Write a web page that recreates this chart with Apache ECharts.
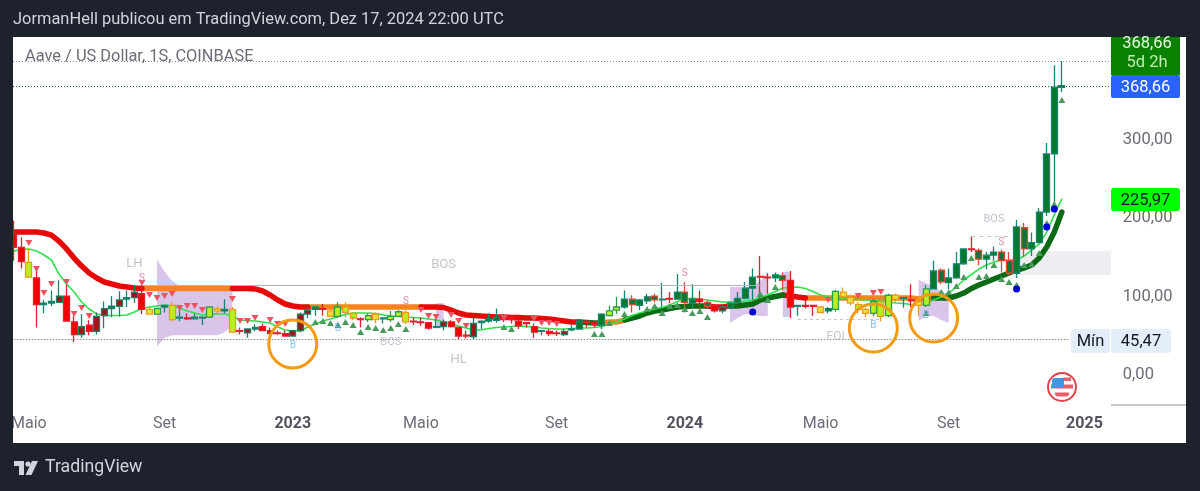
<!DOCTYPE html>
<html><head><meta charset="utf-8">
<style>html,body{margin:0;padding:0;background:#1e222d}#c{width:1200px;height:491px}</style>
<script src="https://cdn.jsdelivr.net/npm/echarts@6/dist/echarts.min.js"></script>
</head><body><div id="c"></div>
<script>
const tickDates=['2022-05-02','2022-09-05','2023-01-02','2023-05-01','2023-09-04','2024-01-01','2024-05-06','2024-09-02','2025-01-06'];
const tickLabels=['Maio','Set','2023','Maio','Set','2024','Maio','Set','2025'];
const priceTicks=[0,100,200,300];
const opens=[180,163,144,124,90,92,93,101,68,52,64,56,76,85,88,97,99,104,84,78,87,89,73,73,72,73,74,82,82,84,57,54,59,62,57,54,53,50,57,78,84,85,82,75,87,79,72,71,78,72,71,75,80,69,68,67,61,62,68,61,51,49,67,69,70,75,74,69,67,62,56,56,54,52,58,59,69,68,64,76,83,87,97,89,95,101,96,98,97,106,92,97,93,89,82,86,93,98,111,126,125,124,127,121,88,89,89,87,82,84,106,99,90,84,79,94,76,102,98,96,94,89,110,134,118,124,142,161,159,148,153,157,146,130,188,161,169,208,282,367];
const closes=[163,145,125,90,92,94,101,69,52,62,56,75,85,88,96,99,106,84,78,85,89,71,74,72,74,74,87,85,84,55,56,59,61,57,53,53,50,57,78,83,87,84,75,87,80,73,71,76,71,73,75,81,68,68,67,60,62,68,62,50,50,66,69,72,74,71,71,63,66,55,57,53,53,56,59,69,67,65,78,82,87,97,90,96,100,96,97,97,106,93,97,94,88,82,87,92,98,111,125,125,124,128,121,87,89,88,88,80,85,107,100,92,84,79,94,75,102,97,99,95,89,110,133,119,124,142,161,160,148,153,157,146,130,189,161,169,208,282,367,369];
const lows=[146,136,125,61,79,88,93,69,42,48,51,52,60,74,75,87,92,78,78,78,80,69,69,70,71,64,73,79,79,55,52,48,56,57,52,52,50,50,55,73,76,76,75,73,74,70,61,68,66,66,68,75,65,64,63,58,60,57,61,46,47,46,59,67,67,68,66,59,61,48,51,50,50,50,56,58,61,61,59,75,78,85,80,83,91,93,87,92,97,80,85,83,85,80,79,85,91,97,96,98,104,119,108,73,76,85,76,80,79,81,99,89,79,74,75,69,74,93,86,87,76,87,110,116,110,123,141,157,140,135,146,131,127,124,151,152,169,203,220,361];
const highs=[197,176,161,134,96,108,121,115,76,78,70,80,94,101,107,108,115,115,88,85,90,93,87,79,79,74,88,88,97,87,61,60,65,66,61,57,57,58,80,88,88,91,84,93,93,80,74,79,80,73,82,83,83,74,74,68,72,71,70,62,57,73,70,79,85,77,75,73,68,66,57,59,57,59,64,70,70,69,79,89,100,108,102,97,104,104,118,106,129,119,116,108,96,91,89,94,106,119,136,152,130,131,131,133,90,96,90,88,87,109,112,103,93,86,97,96,104,104,100,116,99,115,146,136,136,157,162,177,162,157,164,160,157,198,194,182,213,296,395,400];
const candleKinds='rrlrggdrrdrddgdgdryk'+'glgrggkyglrdgrrrrddd'+'grykllrkygkklrrrgdrr'+'rdgggrrrrrgrrdggrrgk'+'kgbggbgrgbgrbrdggggr'+'rgbrgrrygkyylyklkygr'+'ykgbgggrbggbbgbggggg';
const thickLine=[182.5,182.5,182.5,182.5,181.3,178.7,171,161,149.4,139.2,130.3,124,118.9,116.3,113.8,112.5,111.2,110.6,110.6,110.6,110.6,110.6,110.6,110.6,110.6,110.6,110.6,110.6,110.6,110.6,110.6,110.6,110,107.4,102.3,95.9,90.8,88.3,87,87,87,87,87,87,87,87,87,87,87,87,87,87,87,87,87,87,87,86.4,83.2,79.4,76.8,76.2,75.5,74.9,74.3,74.3,73.6,73.6,73,73,72.4,71.7,70.4,69.2,67.9,67.9,67.3,66.6,66.6,67.9,67.9,70.4,73,75.5,79.4,81.9,83.2,85.1,87,87.6,88.3,88.3,88.3,87,87,88.3,88.3,89.6,90.8,95.9,98.5,100.4,102.3,101,99.7,98.5,98.5,98.5,98.5,98.5,98.5,98.5,98.5,98.5,98.5,98.5,98.5,98.5,98.5,98.5,97.2,97.8,98.5,98.5,98.5,101,104.8,110.6,115,118.9,122.7,126.5,130.3,134.1,136.7,140.5,149.4,163.4,182.5,208];
const thickRed=[[0,17],[29,39],[54,75],[92,95],[102,105]];
const thickOrange=[[17,29],[39,54],[78,81],[105,122]];
const thickGreen=[[75,78],[81,92],[95,102],[122,139]];
const thinLine=[158.3,160.3,160.9,158.3,153.3,146.9,129,116.3,106.1,93.4,84.5,78.1,76.2,76.2,76.2,76.8,80.6,85.1,87,88.3,89.6,88.3,85.7,81.9,79.4,76.8,78.1,78.1,78.1,75.5,70.4,69.8,69.2,67.9,66.6,61.5,57.7,56.4,56.4,61.5,65.4,69.2,71.7,74.9,77.5,79.4,79.4,79.4,78.7,76.8,75.5,74.9,74.3,73.6,73,71.7,70.4,67.9,65.4,62.8,60.3,58.4,57.7,59.6,60.9,61.5,62.2,62.8,62.2,61.5,60.3,59.6,59,59,59.6,60.3,60.3,60.9,62.2,64.7,67.9,71.7,76.2,79.4,81.9,84.5,86.4,89.6,94,96.6,98.5,97.2,95.9,94.7,93.4,93.4,93.4,94.7,95.9,99.1,102.3,106.8,111.2,111.8,112.5,110.6,106.8,102.3,99.7,97.8,97.2,97.2,96.6,95.9,95.9,95.3,93.4,92.1,91.5,90.2,89.6,92.1,95.9,99.7,104.8,112.5,121.4,128.4,135.4,140.5,144.3,146.9,146.9,146.9,151.9,159.6,167.3,182.5,204.3,224.7];
const downIdx=[2,3,4,5,7,8,9,10,17,18,19,20,21,22,23,24,25,29,30,31,32,34,35,36,54,55,56,58,59,60,65,69,70,71,72,108,112,114,115];
const downVal=[168.5,135.4,104.8,116.3,118.9,78.1,85.7,75.5,117.6,102.3,98.5,101,103.6,85.7,88.3,88.3,83.2,97.2,69.2,69.2,73,70.4,65.4,65.4,83.2,75.5,74.3,76.8,69.2,62.8,73,71.7,66.6,66.6,65.4,96,101,104.8,106.1];
const upIdx=[40,41,42,43,44,45,46,47,48,49,50,51,52,65,66,77,78,79,81,84,85,86,87,88,89,90,91,92,99,100,101,121,123,124,125,126,127,128,129,130,131,132,133,134,135,136,137,138,139];
const upVal=[67.9,69.2,66.6,64.1,67.9,64.1,55.2,61.5,60.3,57.7,60.3,65.4,59,61.5,59,52.6,52.6,66.6,78.1,84.5,88.3,79.4,88.3,89.6,84.5,79.4,81.9,74.3,103.6,95.9,112.5,79.4,106.1,106.1,113.8,125.2,149.4,125.2,126.5,140.5,122.7,118.9,115,140.5,141.8,155.8,194.1,218.3,350.7];
const dotIdx=[98,133,137,138];
const dotVal=[80.7,110,189,212];
const zone1Idx=[19,20,21,22,23,24,25,26,27,28,29];
const zone1Hi=[148,132,120,114,111,111,111,111,111,111,111];
const zone1Lo=[37,47.5,51,51,51,51,51,51,51,55,64];
const zone2Idx=[56,57];const zone2Hi=[92,92];const zone2Lo=[60,60];
const zone3Idx=[95,96,97,98,99,100];
const zone3Hi=[112.5,112.5,112.5,112.5,120,131.6];
const zone3Lo=[66.6,73,78,76.8,75.5,75.5];
const zone4Idx=[102,103];const zone4Hi=[131.6,131.6];const zone4Lo=[74.3,74.3];
const zone5Idx=[120,121,122,123,124];
const zone5Hi=[121.4,117.6,112.5,107.4,102.3];
const zone5Lo=[69.2,75.5,75.5,70.4,66.6];
const supportBox=[133,145,158.4,127.8];
const circleIdx=[37,114,122];
const circleVal=[40,60.3,73];
const noteIdx=[16,57,59,50,109,130,17,52,89,131,37,43,114,121];
const noteVal=[141.8,140.5,19.5,42.4,48.8,199,122.7,93.4,130,169.8,38.6,60,64,76.8];
const noteText=['LH','BOS','HL','BOS','FOI','BOS','S','S','S','S','B','B','B','B'];
const noteSize=[13,13,13,11,12,11,10,10,10,10,10,10,10,10];
const lastPrice=368.66, highPrice=400.4, minPrice=45.47, bosLevel=114.1, dash1=71.7, dash2=177.4;

const catCount=146;
const categories=Array.from({length:catCount},(_,i)=>new Date(Date.UTC(2022,3,18+7*i)).toISOString().slice(0,10));
const C={r:['#f60000','#e0202e'],d:['#a01518','#1f8068'],b:['#14733c','#dc4a30'],g:['#08792a','#168570'],
         l:['#b6f020','#ea9a1e'],k:['#b6f020','#2c9a55'],y:['#e6e23c','#ee9a1e']};
const candleData=opens.map((o,i)=>{const c=C[candleKinds[i]];return{value:[o,closes[i],lows[i],highs[i]],
  itemStyle:{color:c[0],color0:c[0],borderColor:c[1],borderColor0:c[1],borderWidth:1.3}}});
const maskBy=r=>thickLine.map((v,i)=>r.some(s=>i>=s[0]&&i<=s[1])?v:null);
const thick=(r,col,z)=>({type:'line',data:maskBy(r),showSymbol:false,symbol:'none',connectNulls:false,z:z,silent:true,
  lineStyle:{color:col,width:5.5,cap:'round'}});
const zone=(x,hi,lo)=>{
  const pts=x.map((v,i)=>[v,hi[i],lo[i]]);
  return{type:'custom',z:1,silent:true,coordinateSystem:'cartesian2d',data:[0],encode:{x:0,y:0},clip:true,
    renderItem:(p,api)=>{const up=pts.map(d=>api.coord([d[0],d[1]]));const dn=pts.map(d=>api.coord([d[0],d[2]])).reverse();
      return{type:'polygon',shape:{points:up.concat(dn)},style:{fill:'#d9c5ea'}}}}};
const symbolScatter=(xs,ys,extra)=>Object.assign({type:'scatter',silent:true,data:xs.map((x,i)=>[x,ys[i]])},extra);
const noteColor=t=>t==='S'?'#d9709a':t==='B'?'#64b5f6':'#b2b5be';
const F='Roboto';
const badge=(x,y,w,h,fill,txt,col,r)=>[
  {type:'rect',shape:{x:x,y:y,width:w,height:h,r:r||0},style:{fill:fill}},
  {type:'text',x:x+w/2,y:y+h/2+1,style:{text:txt,fill:col,font:'16.5px '+F,align:'center',verticalAlign:'middle'}}];
const frontElements=[
  {type:'rect',shape:{x:0,y:37,width:13,height:406},style:{fill:'#1e222d'}},
  {type:'text',x:13,y:20,style:{text:'JormanHell publicou em TradingView.com, Dez 17, 2024 22:00 UTC',fill:'#d1d4dc',font:'16.45px '+F,verticalAlign:'middle'}},
  {type:'text',x:25,y:57,style:{text:'Aave / US Dollar, 1S, COINBASE',fill:'#6a6d78',font:'16.4px '+F,verticalAlign:'middle'}},
  {type:'rect',shape:{x:1111,y:37,width:69,height:38},style:{fill:'#0a8001'}},
  {type:'text',x:1147,y:44,style:{text:'368,66',fill:'#e8fbe0',font:'16.5px '+F,align:'center',verticalAlign:'middle'}},
  {type:'text',x:1147,y:63,style:{text:'5d 2h',fill:'#bdf0b0',font:'16.5px '+F,align:'center',verticalAlign:'middle'}},
  ...badge(1111,75,69,23,'#2962ff','368,66','#ffffff',2),
  ...badge(1111,188,69,23,'#00ff00','225,97','#131722',3),
  ...badge(1071,329,39,24,'#e3eefa','Mín','#131722',3),
  ...badge(1111,329,60,24,'#e3eefa','45,47','#131722',3),
  {type:'circle',shape:{cx:1062,cy:387,r:14},style:{fill:'#fff',stroke:'#e0434b',lineWidth:2}},
  {type:'rect',shape:{x:1063,y:377.5,width:8,height:3.5},style:{fill:'#e8606a'}},
  {type:'rect',shape:{x:1051,y:384.5,width:22,height:4},style:{fill:'#e8606a'}},
  {type:'rect',shape:{x:1055,y:392.5,width:14,height:4,r:[0,0,3,3]},style:{fill:'#e8606a'}},
  {type:'rect',shape:{x:1052,y:378,width:12,height:10,r:[3,0,0,0]},style:{fill:'#3f97dd'}},
  {type:'polygon',shape:{points:[[14,461],[24,461],[24,475],[19,475],[19,466],[14,466]]},style:{fill:'#d1d4dc'}},
  {type:'circle',shape:{cx:28,cy:464,r:2.6},style:{fill:'#d1d4dc'}},
  {type:'polygon',shape:{points:[[32,461],[38,461],[31.5,475],[25.5,475]]},style:{fill:'#d1d4dc'}},
  {type:'text',x:45,y:468,style:{text:'TradingView',fill:'#d1d4dc',font:'17.7px '+F,verticalAlign:'middle'}}
].map(e=>Object.assign({z:100},e));

const option={
  animation:false,backgroundColor:'#1e222d',
  grid:{left:10,top:37,width:1100.84,height:368,containLabel:false,show:false},
  xAxis:{type:'category',data:categories,boundaryGap:true,axisLine:{show:false},axisTick:{show:false},splitLine:{show:false},
    axisLabel:{interval:(i,v)=>tickDates.includes(v),margin:11,hideOverlap:false,
      formatter:v=>{const l=tickLabels[tickDates.indexOf(v)];return /^\d+$/.test(l)?'{y|'+l+'}':'{m|'+l+'}'},
      rich:{m:{fontFamily:F,fontSize:16,color:'#6a6d78'},y:{fontFamily:F,fontSize:16,fontWeight:'bold',color:'#50535e'}}}},
  yAxis:{type:'value',position:'right',min:-37.83,max:431,axisLine:{show:false},axisTick:{show:false},splitLine:{show:false},
    axisLabel:{customValues:priceTicks,margin:12,padding:[3,0,0,0],fontFamily:F,fontSize:16.5,color:'#6a6d78',
      formatter:v=>v.toFixed(2).replace('.',',')}},
  graphic:{z:0,elements:[
      {type:'rect',shape:{x:13,y:37,width:1173,height:406},style:{fill:'#ffffff'}},
      {type:'line',shape:{x1:1111,y1:405,x2:1186,y2:405},style:{stroke:'#8f929b',lineWidth:1}},
      ...frontElements]},
  series:[
    {type:'custom',z:1,silent:true,coordinateSystem:'cartesian2d',data:[0],encode:{x:0,y:0},
      renderItem:(p,api)=>{const a=api.coord([supportBox[0],supportBox[2]]),b=api.coord([supportBox[1],supportBox[3]]);
        return{type:'rect',shape:{x:a[0],y:a[1],width:b[0]-a[0]+api.size([1,0])[0]/2,height:b[1]-a[1]},style:{fill:'#eeeef2'}}}},
    zone(zone1Idx,zone1Hi,zone1Lo),zone(zone2Idx,zone2Hi,zone2Lo),zone(zone3Idx,zone3Hi,zone3Lo),zone(zone4Idx,zone4Hi,zone4Lo),zone(zone5Idx,zone5Hi,zone5Lo),
    thick(thickOrange,'#f7841e',2),thick(thickRed,'#e80808',2),thick(thickGreen,'#0a6b14',2),
    {type:'line',data:thinLine,symbol:'none',z:3,silent:true,lineStyle:{color:'#2fe04a',width:1.6},
      markLine:{silent:true,symbol:'none',animation:false,label:{show:false},data:[
        {yAxis:highPrice,lineStyle:{color:'#8a8d96',type:[1,2],width:1}},
        {yAxis:lastPrice,lineStyle:{color:'#1f6b3a',type:[1,2],width:1}},
        [{coord:[0,minPrice],lineStyle:{color:'#8a8d96',type:[1.5,1.5],width:1}},{coord:[140,minPrice]}],
        [{coord:[17,bosLevel],lineStyle:{color:'#b2b5be',type:'solid',width:1}},{coord:[99,bosLevel]}],
        [{coord:[104,dash1],lineStyle:{color:'#c4c6cc',type:[3,3],width:1}},{coord:[115,dash1]}],
        [{coord:[127,dash2],lineStyle:{color:'#c4c6cc',type:[4,4],width:1}},{coord:[132,dash2]}]
      ]}},
    {type:'candlestick',z:4,silent:true,barWidth:6.5,data:candleData},
    symbolScatter(downIdx,downVal,{z:5,symbol:'triangle',symbolRotate:180,symbolSize:[7,6],itemStyle:{color:'#ef5160',opacity:1}}),
    symbolScatter(upIdx,upVal,{z:5,symbol:'triangle',symbolSize:[7,6],itemStyle:{color:'#4a9a5e',opacity:1}}),
    symbolScatter(dotIdx,dotVal,{z:5,symbol:'circle',symbolSize:7,itemStyle:{color:'#0000d8',opacity:1}}),
    {type:'scatter',z:6,silent:true,symbolSize:0,data:noteIdx.map((x,i)=>({value:[x,noteVal[i]],
        label:{show:true,position:'inside',formatter:noteText[i],fontFamily:F,fontSize:noteSize[i],color:noteColor(noteText[i])}}))},
    symbolScatter(circleIdx,circleVal,{z:7,symbol:'circle',symbolSize:48,itemStyle:{color:'rgba(0,0,0,0)',borderColor:'#f59a14',borderWidth:3,opacity:1}})
  ]
};
echarts.init(document.getElementById('c')).setOption(option);
</script></body></html>
